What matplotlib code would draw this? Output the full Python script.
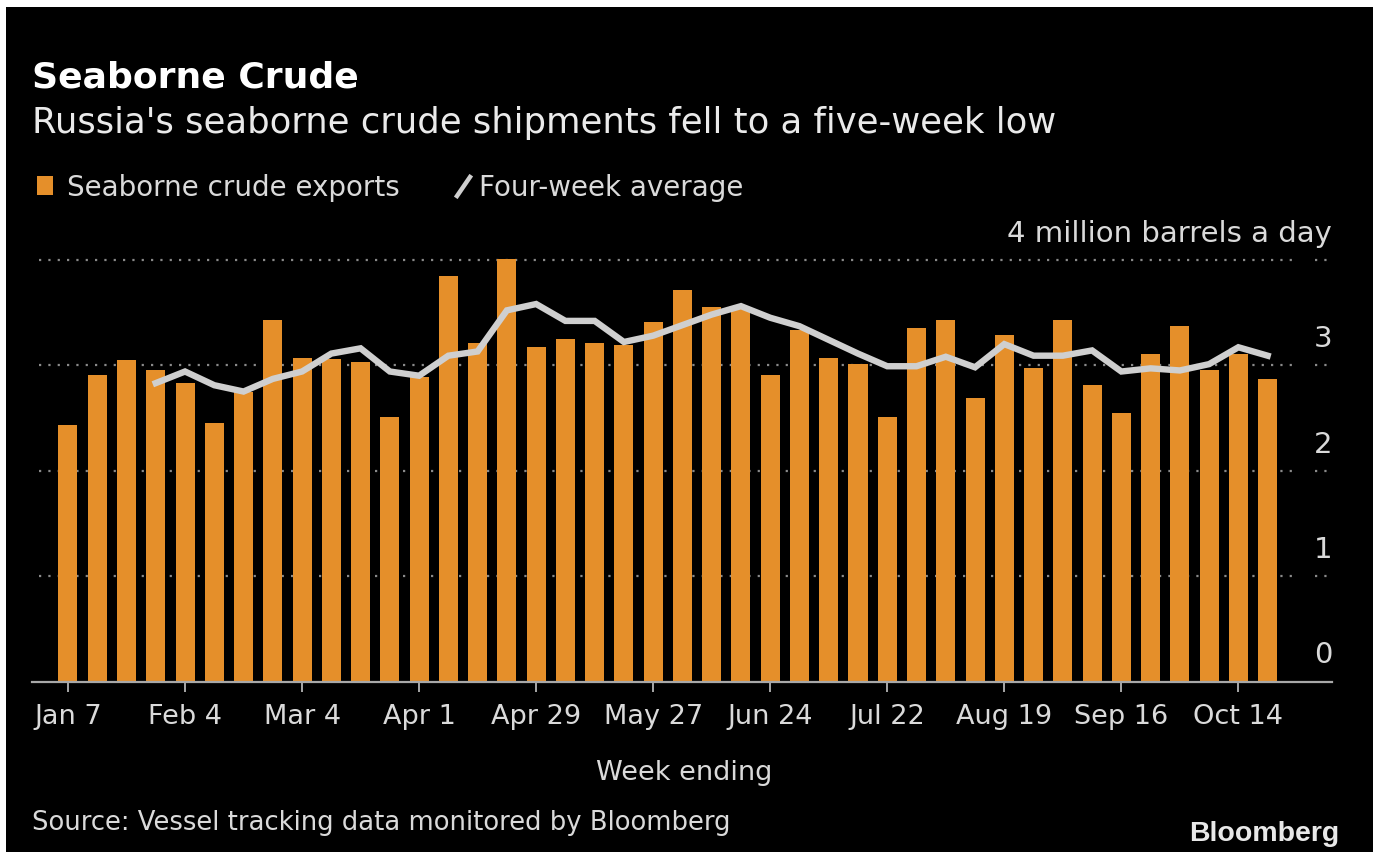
import matplotlib
matplotlib.use('Agg')
import matplotlib.pyplot as plt
from matplotlib.patches import Rectangle
from matplotlib.lines import Line2D
import matplotlib.transforms as mtransforms

# weekly seaborne crude exports, million barrels a day (Jan 7 .. Oct 21)
exports = [2.43, 2.91, 3.05, 2.95, 2.83, 2.45, 2.75, 3.43, 3.07, 3.06,
           3.03, 2.51, 2.89, 3.85, 3.21, 4.01, 3.17, 3.25, 3.21, 3.19,
           3.41, 3.71, 3.55, 3.54, 2.91, 3.33, 3.07, 3.01, 2.51, 3.35,
           3.43, 2.69, 3.29, 2.97, 3.43, 2.81, 2.55, 3.11, 3.37, 2.95,
           3.11, 2.87]
# four-week average, starts with the fourth week
avg_start = 3
four_week_avg = [2.83, 2.94, 2.81, 2.75, 2.87, 2.94, 3.11, 3.16, 2.94, 2.90,
                 3.09, 3.13, 3.52, 3.58, 3.42, 3.42, 3.22, 3.28, 3.38, 3.48,
                 3.56, 3.45, 3.37, 3.24, 3.11, 2.99, 2.99, 3.08, 2.98, 3.20,
                 3.09, 3.09, 3.14, 2.94, 2.97, 2.95, 3.01, 3.17, 3.09]
tick_labels = ['Jan 7', 'Feb 4', 'Mar 4', 'Apr 1', 'Apr 29', 'May 27',
               'Jun 24', 'Jul 22', 'Aug 19', 'Sep 16', 'Oct 14']
y_labels = ['0', '1', '2', '3', '4 million barrels a day']

ORANGE = '#E58F2A'
LINE = '#CFCFCF'
TXT = '#DADADA'
FONT = 'DejaVu Sans'

W, H = 1373, 853
fig = plt.figure(figsize=(W / 100, H / 100), dpi=100, facecolor='white')

def px(x, y):
    return x / W, 1 - y / H

# black card with small white margin top/left
fig.patches.append(Rectangle(px(6, 853), (W - 6) / W, (H - 8) / H,
                             transform=fig.transFigure, facecolor='black',
                             edgecolor='none', zorder=-5))

ax = fig.add_axes([32 / W, (H - 682.5) / H, 1300 / W, (682.5 - 250.2) / H])
ax.set_facecolor('none')

xs = list(range(len(exports)))
ax.bar(xs, exports, width=0.65, color=ORANGE, zorder=2)
ax.plot(xs[avg_start:], four_week_avg, color=LINE, lw=4.6,
        solid_joinstyle='miter', zorder=3)

x_left, x_right = -1.23, 43.2
ax.set_xlim(x_left, x_right)
ax.set_ylim(0, 4.1)

# dotted grid plus short stub near labels
for v in [1, 2, 3, 4]:
    ax.hlines(v, x_left + 0.25, 41.95, colors='#8A8A8A', lw=1.6,
              linestyles=(0, (1, 3.2)), zorder=1)
    ax.hlines(v, 42.63, x_right, colors='#8A8A8A', lw=1.6,
              linestyles=(0, (1, 3.2)), zorder=1, clip_on=False)

# y labels sit above grid lines, right aligned
off = mtransforms.offset_copy(ax.transData, fig=fig, x=0, y=13.7, units='points')
for v, lab in enumerate(y_labels):
    ax.text(x_right, v, lab, transform=off, ha='right', va='baseline',
            fontsize=21, color=TXT, family=FONT)

for s in ['top', 'right', 'left']:
    ax.spines[s].set_visible(False)
ax.spines['bottom'].set_color('#A8A8A8')
ax.spines['bottom'].set_linewidth(1.6)
ax.spines['bottom'].set_zorder(4)

ax.set_yticks([])
ax.set_xticks(xs[::4])
ax.set_xticklabels(tick_labels, family=FONT, fontsize=19.5, color=TXT)
ax.tick_params(axis='x', length=7.5, width=1.4, color='#A8A8A8', pad=8)

# titles
fig.text(*px(32, 88), 'Seaborne Crude', fontsize=26, fontweight='bold',
         color='white', family=FONT, va='baseline')
fig.text(*px(32, 133), "Russia's seaborne crude shipments fell to a five-week low",
         fontsize=25.5, color='#EAEAEA', family=FONT, va='baseline')

# legend
fig.patches.append(Rectangle(px(37, 196), 16 / W, 19 / H, transform=fig.transFigure,
                             facecolor=ORANGE, edgecolor='none'))
fig.text(*px(67, 196), 'Seaborne crude exports', fontsize=20, color=TXT,
         family=FONT, va='baseline')
x0, y0 = px(457, 197)
x1, y1 = px(470, 178)
fig.lines.append(Line2D([x0, x1], [y0, y1], transform=fig.transFigure,
                        color=LINE, lw=3.2))
fig.text(*px(479, 196), 'Four-week average', fontsize=20, color=TXT,
         family=FONT, va='baseline')

fig.text(*px(684, 780), 'Week ending', fontsize=19.5, color=TXT,
         family=FONT, ha='center', va='baseline')
fig.text(*px(32, 830), 'Source: Vessel tracking data monitored by Bloomberg',
         fontsize=18.6, color=TXT, family=FONT, va='baseline')
fig.text(*px(1339, 841), 'Bloomberg', fontsize=20.5, fontweight='bold',
         color='#E8E8E8', family=['Liberation Sans', 'DejaVu Sans'],
         ha='right', va='baseline')

fig.savefig('out.png', dpi=100, facecolor=fig.get_facecolor())
